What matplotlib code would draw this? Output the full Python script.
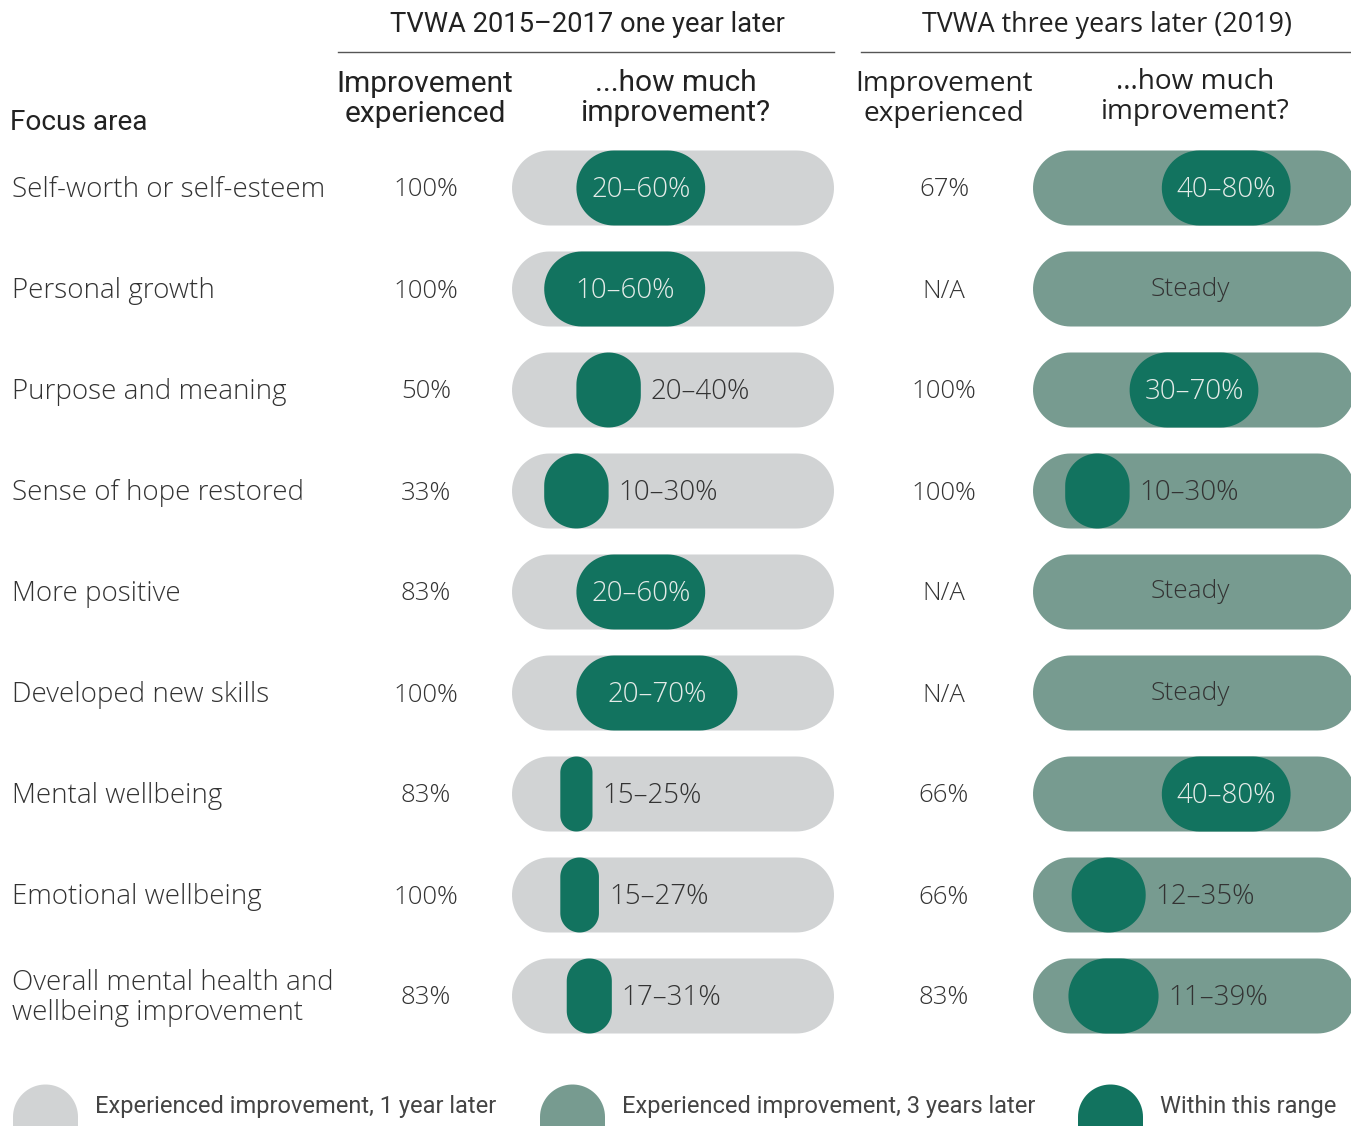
import matplotlib
matplotlib.use("Agg")
import numpy as np
import matplotlib.pyplot as plt
from matplotlib.patches import Polygon

# Datos
areas = ["Self-worth or self-esteem", "Personal growth", "Purpose and meaning",
         "Sense of hope restored", "More positive", "Developed new skills",
         "Mental wellbeing", "Emotional wellbeing",
         "Overall mental health and\nwellbeing improvement"]
pct_1yr = ["100%", "100%", "50%", "33%", "83%", "100%", "83%", "100%", "83%"]
lo_1yr = [20, 10, 20, 10, 20, 20, 15, 15, 17]
hi_1yr = [60, 60, 40, 30, 60, 70, 25, 27, 31]
pct_3yr = ["67%", "N/A", "100%", "100%", "N/A", "N/A", "66%", "66%", "83%"]
lo_3yr = [40, None, 30, 10, None, None, 40, 12, 11]
hi_3yr = [80, None, 70, 30, None, None, 80, 35, 39]

GRIS = "#d1d3d4"
VERDE_MEDIO = "#779b90"
VERDE = "#12735f"
TEXTO = "#333333"
CLARO = "#e4ebe8"

fuente = ["Open Sans", "DejaVu Sans"]
angosta = ["Roboto", "DejaVu Sans"]
peso = "light"

fig = plt.figure(figsize=(13.51, 11.26), dpi=100)
ax = fig.add_axes([0, 0, 1, 1])
ax.set_xlim(0, 1351)
ax.set_ylim(1126, 0)
ax.axis("off")

fila0, paso, alto = 188, 101, 75
ancho = 322
x_panel = [512, 1033]
x_pct = [426, 944]


def pastilla(x, y, w, h, color):
    # forma de pastilla con extremos semicirculares
    t = np.linspace(0, np.pi, 40)
    if w >= h:
        r = h / 2
        cx1, cx2 = x + r, x + w - r
        der = np.column_stack([cx2 + r * np.sin(t), y - r * np.cos(t)])
        izq = np.column_stack([cx1 - r * np.sin(t), y + r * np.cos(t)])
        pts = np.vstack([der, izq])
    else:
        r = w / 2
        cx = x + r
        cy1, cy2 = y - h / 2 + r, y + h / 2 - r
        arriba = np.column_stack([cx - r * np.cos(t), cy1 - r * np.sin(t)])
        abajo = np.column_stack([cx + r * np.cos(t), cy2 + r * np.sin(t)])
        pts = np.vstack([arriba, abajo])
    ax.add_patch(Polygon(pts, closed=True, fc=color, ec="none"))


# Encabezados
ax.text(587, 25, "TVWA 2015\u20132017 one year later", ha="center", va="center",
        fontsize=19.7, color="#222222", family=angosta)
ax.plot([338, 834], [52, 52], color="#555555", lw=1)
ax.text(1107, 25, "TVWA three years later (2019)", ha="center", va="center",
        fontsize=19.4, color="#222222", family=fuente)
ax.plot([861, 1351], [52, 52], color="#555555", lw=1)
ax.text(10, 122, "Focus area", ha="left", va="center", fontsize=20.2, color="#222222", family=angosta)
ax.text(425, 99, "Improvement\nexperienced", ha="center", va="center", fontsize=21.5,
        color="#222222", family=angosta, linespacing=1.05)
ax.text(676, 98, "...how much\nimprovement?", ha="center", va="center", fontsize=21.5,
        color="#222222", family=angosta, linespacing=1.05)
ax.text(944, 99, "Improvement\nexperienced", ha="center", va="center", fontsize=20.2,
        color="#222222", family=fuente, linespacing=1.1)
ax.text(1195, 97, "...how much\nimprovement?", ha="center", va="center", fontsize=20.2,
        color="#222222", family=fuente, linespacing=1.1)

# Filas
for i, area in enumerate(areas):
    y = fila0 + i * paso
    ax.text(12, y + 2, area, ha="left", va="center", fontsize=20, color=TEXTO,
            family=fuente, weight=peso, linespacing=1.1)
    ax.text(x_pct[0], y + 2, pct_1yr[i], ha="center", va="center", fontsize=18.5,
            color=TEXTO, family=fuente, weight=peso)
    ax.text(x_pct[1], y + 2, pct_3yr[i], ha="center", va="center", fontsize=18.5,
            color=TEXTO, family=fuente, weight=peso)

    for k, (lo, hi, fondo) in enumerate([(lo_1yr[i], hi_1yr[i], GRIS), (lo_3yr[i], hi_3yr[i], VERDE_MEDIO)]):
        x0 = x_panel[k]
        pastilla(x0, y, ancho, alto, fondo)
        if lo is None:
            ax.text(x0 + ancho * 0.49, y, "Steady", ha="center", va="center",
                    fontsize=19, color=TEXTO, family=fuente, weight=peso)
            continue
        xa = x0 + ancho * lo / 100
        xb = x0 + ancho * hi / 100
        pastilla(xa, y, xb - xa, alto, VERDE)
        etiqueta = f"{lo}\u2013{hi}%"
        if xb - xa > 100:
            ax.text((xa + xb) / 2, y + 2, etiqueta, ha="center", va="center",
                    fontsize=20, color=CLARO, family=fuente, weight=peso)
        else:
            ax.text(xb + 10, y + 2, etiqueta, ha="left", va="center",
                    fontsize=20, color=TEXTO, family=fuente, weight=peso)

# Leyenda
leyenda = [(13, GRIS, "Experienced improvement, 1 year later"),
           (540, VERDE_MEDIO, "Experienced improvement, 3 years later"),
           (1078, VERDE, "Within this range")]
for x, c, t in leyenda:
    pastilla(x, 1122, 65, 75, c)
    ax.text(x + 82, 1107, t, ha="left", va="center", fontsize=17, color="#444444",
            family=angosta)

fig.savefig("out.png", dpi=100)
